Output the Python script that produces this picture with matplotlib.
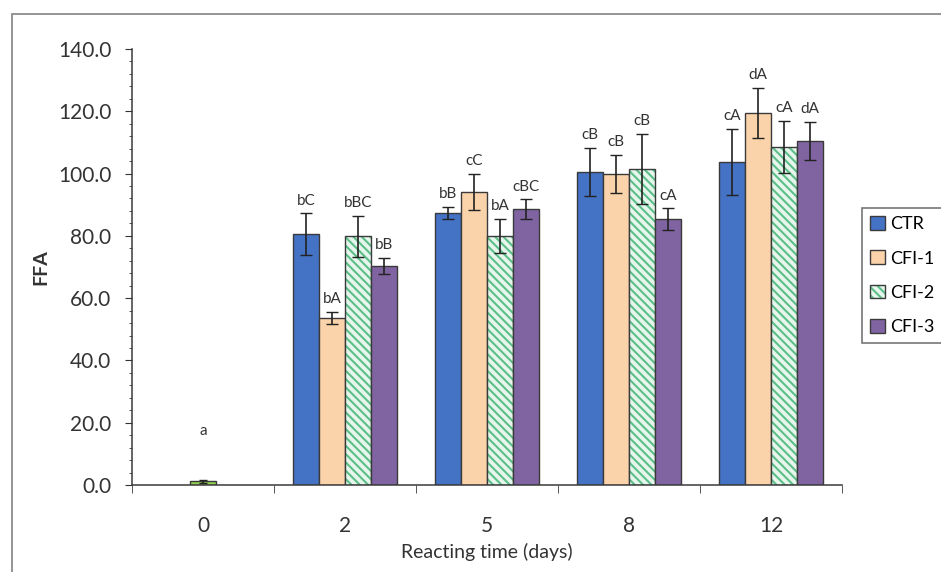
import matplotlib
matplotlib.use('Agg')
import matplotlib.pyplot as plt
from matplotlib.patches import Rectangle
import numpy as np

plt.rcParams['font.family'] = ['Lato', 'DejaVu Sans']
plt.rcParams['hatch.linewidth'] = 1.5

days = ['0', '2', '5', '8', '12']
series = ['CTR', 'CFI-1', 'CFI-2', 'CFI-3']

# day 0 has a single shared value
day0_val = 1.2
day0_err = 0.4
day0_label = 'a'

# days 2..12, one list per treatment
ctr = [80.6, 87.3, 100.5, 103.7]
cfi1 = [53.6, 94.1, 99.9, 119.5]
cfi2 = [79.8, 80.0, 101.5, 108.5]
cfi3 = [70.3, 88.6, 85.4, 110.5]

ctr_err = [6.7, 2.0, 7.7, 10.6]
cfi1_err = [2.0, 5.8, 6.1, 8.0]
cfi2_err = [6.7, 5.4, 11.2, 8.4]
cfi3_err = [2.6, 3.2, 3.5, 6.1]

ctr_lab = ['bC', 'bB', 'cB', 'cA']
cfi1_lab = ['bA', 'cC', 'cB', 'dA']
cfi2_lab = ['bBC', 'bA', 'cB', 'cA']
cfi3_lab = ['bB', 'cBC', 'cA', 'dA']

vals = [ctr, cfi1, cfi2, cfi3]
errs = [ctr_err, cfi1_err, cfi2_err, cfi3_err]
labs = [ctr_lab, cfi1_lab, cfi2_lab, cfi3_lab]
colors = ['#4472C4', '#FBD3AA', '#E6F6EC', '#8064A2']
hatches = [None, None, '\\\\\\\\', None]

fig = plt.figure(figsize=(9.41, 5.72), dpi=100)
fig.patches.append(Rectangle((12 / 941, -0.05), 1.0, (572 - 14) / 572 + 0.05,
                             transform=fig.transFigure, fill=False,
                             edgecolor='#8c8c8c', linewidth=1.3))
ax = fig.add_axes([132 / 941, 87 / 572, 710 / 941, 436 / 572])

w = 0.183
x = np.arange(len(days))
ax.bar(x[0], day0_val, w, color='#92D050', edgecolor='#3a3a3a', linewidth=1,
       yerr=day0_err, capsize=3, error_kw=dict(ecolor='#222222', elinewidth=1.2))
ax.annotate(day0_label, (x[0], day0_val + day0_err), xytext=(0, 30),
            textcoords='offset points', ha='center', va='bottom', fontsize=11, color='#333333')

for i in range(4):
    xs = x[1:] + (i - 1.5) * w
    bars = ax.bar(xs, vals[i], w, color=colors[i], edgecolor='#3a3a3a', linewidth=1,
                  hatch=hatches[i], label=series[i],
                  yerr=errs[i], capsize=4, error_kw=dict(ecolor='#222222', elinewidth=1.2))
    if hatches[i]:
        for b in bars:
            b._hatch_color = matplotlib.colors.to_rgba('#5CBF8A')
    for xi, v, e, t in zip(xs, vals[i], errs[i], labs[i]):
        ax.annotate(t, (xi, v + e), xytext=(0, 4), textcoords='offset points',
                    ha='center', va='bottom', fontsize=11, color='#333333')

ax.set_xlim(-0.5, 4.5)
ax.set_ylim(0, 140)
ax.set_yticks(np.arange(0, 141, 20))
ax.set_yticks(np.arange(0, 141, 4), minor=True)
ax.set_yticklabels([f'{v:.1f}' for v in np.arange(0, 141, 20)])
ax.set_xticks(x)
ax.set_xticklabels(days)
ax.set_xticks(np.arange(-0.5, 4.6, 1), minor=True)
ax.tick_params(axis='x', which='major', length=0, labelsize=15, pad=22, colors='#333333')
ax.tick_params(axis='x', which='minor', length=6, direction='out', color='#3a3a3a')
ax.tick_params(axis='y', which='major', length=5, labelsize=15, pad=10, colors='#333333')
ax.tick_params(axis='y', which='minor', length=2, color='#3a3a3a')
for s in ['top', 'right']:
    ax.spines[s].set_visible(False)
for s in ['left', 'bottom']:
    ax.spines[s].set_color('#3a3a3a')
    ax.spines[s].set_linewidth(1.1)

ax.set_xlabel('Reacting time (days)', fontsize=14, color='#333333', labelpad=5)
ax.set_ylabel('FFA', fontsize=14, fontweight='bold', color='#333333', labelpad=6)

leg = fig.legend(loc='upper left', bbox_to_anchor=(862 / 941, 1 - 208 / 572),
                 fontsize=13, frameon=True, fancybox=False, edgecolor='#555555',
                 handlelength=0.8, handleheight=0.8, handletextpad=0.3,
                 labelspacing=1.0, borderpad=0.45, borderaxespad=0)
leg.get_frame().set_linewidth(1.2)

fig.savefig('out.png', dpi=100)
